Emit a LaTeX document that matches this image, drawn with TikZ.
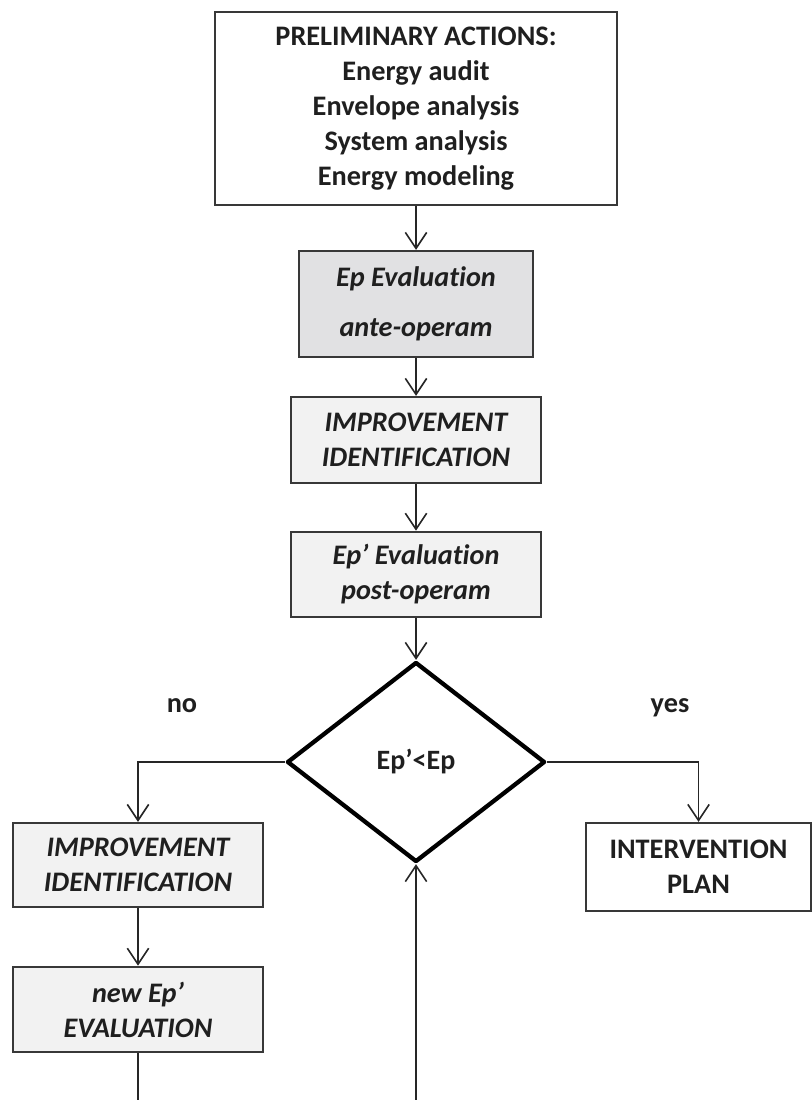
\documentclass[tikz,border=0pt]{standalone}
\usepackage{fontspec}
\setmainfont{Carlito}[Ligatures=CommonOff]
\usetikzlibrary{shapes.geometric,arrows.meta}
\definecolor{antegray}{HTML}{E1E1E3}
\definecolor{steplight}{HTML}{F2F2F2}
\definecolor{edgegray}{HTML}{383838}

\begin{document}
\begin{tikzpicture}[x=0.75pt,y=-0.75pt,
	box/.style={draw=edgegray,line width=1.7pt,inner sep=0pt,align=center,
		text=black!88,font=\fontsize{21.2}{26.3}\selectfont\bfseries},
	ibox/.style={box,fill=steplight,font=\fontsize{21.2}{26.3}\selectfont\bfseries\itshape},
	arr/.style={draw=black!85,line width=1.2pt,
		-{Straight Barb[length=12pt,width=16pt,line width=1.2pt]}},
	lbl/.style={text=black!88,font=\fontsize{21.2}{24}\selectfont\bfseries}]
	\useasboundingbox (0,0) rectangle (812,1100);
	% main column
	\node[box,minimum width=302pt,minimum height=145pt] (prelim) at (416,108.5)
		{PRELIMINARY ACTIONS:\\Energy audit\\Envelope analysis\\System analysis\\Energy modeling};
	\node[ibox,fill=antegray,font=\fontsize{21.2}{37.5}\selectfont\bfseries\itshape,
		minimum width=176pt,minimum height=79.5pt] (ante) at (416,304)
		{Ep Evaluation\\ante-operam};
	\node[ibox,minimum width=188pt,minimum height=64.5pt] (improve) at (416,440)
		{IMPROVEMENT\\IDENTIFICATION};
	\node[ibox,minimum width=188pt,minimum height=64pt] (post) at (416,574.5)
		{Ep’ Evaluation\\post-operam};
	\node[diamond,draw=black,line width=3.2pt,line join=round,aspect=1.29,inner sep=0pt,
		minimum width=193.5pt,minimum height=150pt,text=black!88,
		font=\fontsize{21}{24}\selectfont\bfseries] (check) at (416,762) {Ep’<Ep};
	% branches
	\node[box,minimum width=168.5pt,minimum height=66pt] (plan) at (698.5,867)
		{INTERVENTION\\PLAN};
	\node[ibox,minimum width=187.5pt,minimum height=63pt] (improveb) at (138,865)
		{IMPROVEMENT\\IDENTIFICATION};
	\node[ibox,minimum width=187.5pt,minimum height=64pt] (neweval) at (138,1009.5)
		{new Ep’\\EVALUATION};
	\node[lbl,anchor=base] (no) at (182,712) {no};
	\node[lbl,anchor=base] (yes) at (670,712) {yes};
	\coordinate (loopin) at (416,1100);
	\coordinate (loopout) at (138,1100);
	% connectors
	\draw[arr] (prelim.south) -- (ante.north);
	\draw[arr] (ante.south) -- (improve.north);
	\draw[arr] (improve.south) -- (post.north);
	\draw[arr] (post.south) -- (check.north);
	\draw[arr] (check.west) -| (improveb.north);
	\draw[arr] (check.east) -| (plan.north);
	\draw[arr] (improveb.south) -- (neweval.north);
	\draw[draw=black!85,line width=1.2pt] (neweval.south) -- (loopout);
	\draw[arr] (loopin) -- (check.south);
\end{tikzpicture}
\end{document}
